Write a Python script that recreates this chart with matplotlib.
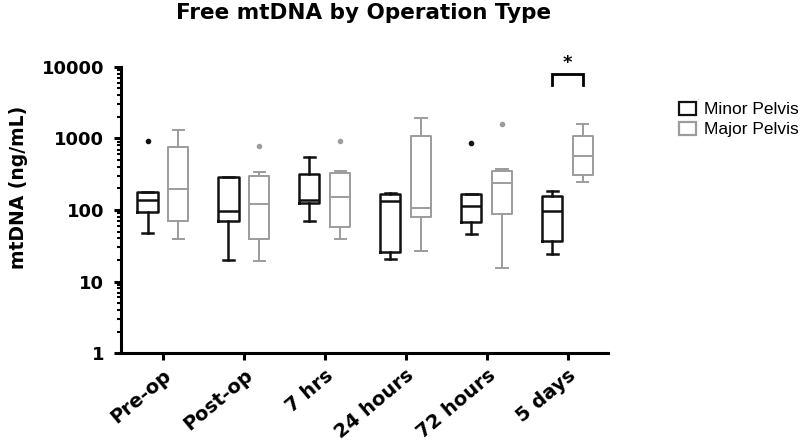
import numpy as np
import matplotlib.pyplot as plt
from matplotlib.patches import Patch

plt.rcParams['font.family'] = ['DejaVu Sans']

categories = ['Pre-op', 'Post-op', '7 hrs', '24 hours', '72 hours', '5 days']
groups = ['Minor Pelvis', 'Major Pelvis']

# box stats: whisker low, q1, median, q3, whisker high, outliers
minor_lo = [48, 19.8, 71, 20.6, 45.7, 24]
minor_q1 = [94, 70, 124, 25.6, 67, 36.5]
minor_med = [139, 98, 138, 134, 114, 97]
minor_q3 = [180, 287, 319, 166, 167, 158]
minor_hi = [180, 287, 551, 171, 167, 184]
minor_out = [[931], [], [], [], [856], []]

major_lo = [39, 19.2, 39, 27, 15.3, 244]
major_q1 = [71, 39.7, 57, 80.7, 88, 312]
major_med = [195, 121, 150, 106, 236, 563]
major_q3 = [753, 299, 332, 1073, 355, 1095]
major_hi = [1315, 340, 351, 1954, 378, 1596]
major_out = [[], [794], [923], [], [1610], []]

sig_pair = 5  # 5 days, marked with *


def stats(lo, q1, med, q3, hi, out):
    return [dict(whislo=a, q1=b, med=c, q3=d, whishi=e, fliers=f)
            for a, b, c, d, e, f in zip(lo, q1, med, q3, hi, out)]


fig = plt.figure(figsize=(8, 4.43), dpi=100)
ax = fig.add_axes([0.151, 0.203, 0.609, 0.646])

x = np.arange(len(categories))
off = 0.19
w = 0.25

for st, pos, col, lw in [
        (stats(minor_lo, minor_q1, minor_med, minor_q3, minor_hi, minor_out), x - off, '#111111', 1.8),
        (stats(major_lo, major_q1, major_med, major_q3, major_hi, major_out), x + off, '#9c9c9c', 1.4)]:
    ax.bxp(st, positions=pos, widths=w, showfliers=True, patch_artist=False,
           boxprops=dict(color=col, linewidth=lw),
           medianprops=dict(color=col, linewidth=lw),
           whiskerprops=dict(color=col, linewidth=lw),
           capprops=dict(color=col, linewidth=lw),
           capwidths=w * 0.55,
           flierprops=dict(marker='o', markersize=3, markerfacecolor=col,
                           markeredgecolor=col))

ax.set_yscale('log')
ax.set_ylim(1, 10000)
ax.set_xlim(-0.52, 5.5)
ax.set_yticks([1, 10, 100, 1000, 10000])
ax.set_yticklabels(['1', '10', '100', '1000', '10000'])
ax.set_xticks(x)
ax.set_xticklabels(categories, rotation=40, ha='right', rotation_mode='anchor')

for s in ['top', 'right']:
    ax.spines[s].set_visible(False)
for s in ['left', 'bottom']:
    ax.spines[s].set_linewidth(2.2)
ax.tick_params(axis='y', which='major', width=2.2, length=5, labelsize=13, pad=7)
ax.tick_params(axis='x', which='major', width=2.2, length=5, labelsize=14, pad=4)
ax.tick_params(axis='y', which='minor', width=1.5, length=3)
for lab in ax.get_xticklabels() + ax.get_yticklabels():
    lab.set_fontweight('bold')

ax.set_ylabel('mtDNA (ng/mL)', fontsize=13.5, fontweight='bold')
ax.yaxis.set_label_coords(-0.19, 0.58)
fig.text(0.455, 0.97, 'Free mtDNA by Operation Type', ha='center', va='center',
         fontsize=15.5, fontweight='bold')

# significance bracket
bx0, bx1 = sig_pair - off, sig_pair + off
ax.plot([bx0, bx0, bx1, bx1], [5550, 7906, 7906, 5550], color='black', lw=2,
        clip_on=False, solid_joinstyle='miter')
ax.text(sig_pair, 11500, '*', ha='center', va='center', fontsize=13, fontweight='bold')

handles = [Patch(facecolor='white', edgecolor='#111111', linewidth=1.6),
           Patch(facecolor='white', edgecolor='#9c9c9c', linewidth=1.6)]
fig.legend(handles, groups, loc='upper left', bbox_to_anchor=(0.838, 0.79),
           frameon=False, borderpad=0, prop=dict(family='Liberation Sans', size=12.5),
           handlelength=1.0, handleheight=0.8, handletextpad=0.45, labelspacing=0.25)

fig.savefig('out.png', dpi=100)
